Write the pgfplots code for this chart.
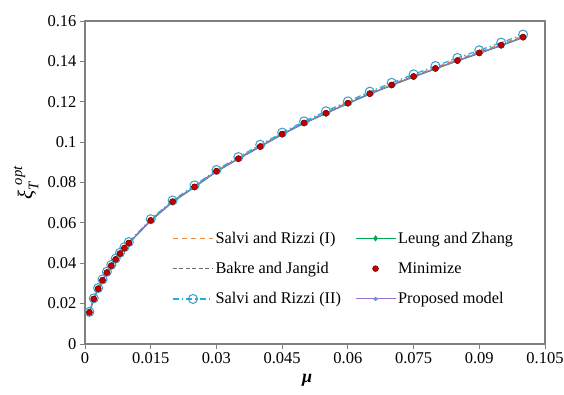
\documentclass[border=0pt]{standalone}
\usepackage{fontspec}
\setmainfont{Liberation Serif}
\usepackage{amsmath}
\usepackage{pgfplots}
\usepackage{pgfplotstable}
\pgfplotsset{compat=1.18}
\definecolor{cOrange}{HTML}{F0883C}
\definecolor{cGray}{HTML}{6E6E6E}
\definecolor{cBlue}{HTML}{1FB0E8}
\definecolor{cCirc}{HTML}{3E9CC2}
\definecolor{cGreen}{HTML}{00A850}
\definecolor{cRed}{HTML}{C00000}
\definecolor{cPurple}{HTML}{9A72D0}
\definecolor{cAxis}{HTML}{808080}

\pgfplotstableread{
mu    salvi1 bakre  salvi2 leung  mini   prop
0.001 0.0158 0.0157 0.0159 0.0156 0.0157 0.0157
0.002 0.0224 0.0223 0.0226 0.0222 0.0223 0.0223
0.003 0.0275 0.0274 0.0277 0.0273 0.0274 0.0274
0.004 0.0317 0.0316 0.0320 0.0315 0.0316 0.0316
0.005 0.0355 0.0354 0.0358 0.0353 0.0354 0.0354
0.006 0.0389 0.0388 0.0392 0.0387 0.0388 0.0388
0.007 0.0420 0.0419 0.0423 0.0418 0.0419 0.0419
0.008 0.0449 0.0448 0.0452 0.0447 0.0448 0.0448
0.009 0.0476 0.0475 0.0480 0.0474 0.0475 0.0475
0.010 0.0501 0.0500 0.0505 0.0499 0.0500 0.0500
0.015 0.0614 0.0612 0.0618 0.0611 0.0612 0.0612
0.020 0.0707 0.0705 0.0711 0.0703 0.0705 0.0705
0.025 0.0781 0.0779 0.0786 0.0777 0.0778 0.0779
0.030 0.0858 0.0856 0.0862 0.0854 0.0856 0.0856
0.035 0.0921 0.0919 0.0926 0.0917 0.0918 0.0919
0.040 0.0981 0.0979 0.0987 0.0977 0.0978 0.0979
0.045 0.1043 0.1040 0.1047 0.1038 0.1040 0.1040
0.050 0.1098 0.1095 0.1103 0.1093 0.1095 0.1095
0.055 0.1147 0.1144 0.1153 0.1142 0.1143 0.1144
0.060 0.1197 0.1193 0.1202 0.1191 0.1193 0.1193
0.065 0.1244 0.1240 0.1250 0.1238 0.1240 0.1240
0.070 0.1287 0.1283 0.1294 0.1281 0.1283 0.1283
0.075 0.1329 0.1325 0.1336 0.1323 0.1325 0.1325
0.080 0.1370 0.1365 0.1377 0.1363 0.1365 0.1365
0.085 0.1409 0.1404 0.1417 0.1402 0.1404 0.1404
0.090 0.1447 0.1442 0.1455 0.1440 0.1442 0.1442
0.095 0.1485 0.1480 0.1493 0.1478 0.1480 0.1480
0.100 0.1525 0.1520 0.1533 0.1518 0.1520 0.1520
}\datatable

\begin{document}
\begin{tikzpicture}
\begin{axis}[
  scale only axis,
  width=460pt, height=323pt,
  xmin=0, xmax=0.105, ymin=0, ymax=0.16,
  xtick={0,0.015,0.03,0.045,0.06,0.075,0.09,0.105},
  ytick={0,0.02,0.04,0.06,0.08,0.1,0.12,0.14,0.16},
  scaled ticks=false,
  /pgf/number format/assume math mode=true,
  /pgf/number format/fixed,
  /pgf/number format/precision=3,
  tick align=outside,
  xtick pos=bottom, ytick pos=left,
  major tick length=5pt,
  tick style={cAxis, line width=0.8pt},
  axis line style={cAxis, line width=1.1pt},
  ticklabel style={font=\fontsize{16.5}{18}\selectfont, text=black},
  xlabel={\textbf{\textit{μ}}},
  xlabel style={at={(axis description cs:0.483,-0.111)}, anchor=center, font=\fontsize{18}{20}\selectfont},
  ylabel={$\text{\itshape ξ}_{\text{\itshape T}}^{\ \text{\itshape opt}}$},
  ylabel style={at={(axis description cs:-0.128,0.5)}, anchor=center, font=\fontsize{21}{23}\selectfont},
  legend columns=2,
  legend style={at={(axis description cs:0.183,0.36)}, anchor=north west, draw=none, fill=none,
    font=\fontsize{16.3}{18}\selectfont, row sep=13.5pt,
    /tikz/every even column/.append style={column sep=12pt}},
  legend cell align=left,
  legend image code/.code={\draw[mark repeat=2,mark phase=2,#1] plot coordinates {(0pt,0pt) (20pt,0pt) (40pt,0pt)};},
]
\addplot[cOrange, line width=1.2pt, dash pattern=on 5pt off 4pt] table[x=mu, y=salvi1] {\datatable};
\addlegendentry{Salvi and Rizzi (I)}
\addplot[cGreen, line width=1.2pt, mark=diamond*, mark size=2.2pt, mark options={solid}] table[x=mu, y=leung] {\datatable};
\addlegendentry{Leung and Zhang}
\addplot[cGray, line width=1.2pt, dash pattern=on 4pt off 2.5pt] table[x=mu, y=bakre] {\datatable};
\addlegendentry{Bakre and Jangid}
\addplot[only marks, mark=*, mark size=3pt, mark options={fill=cRed, draw=cRed!70!black}] table[x=mu, y=mini] {\datatable};
\addlegendentry{Minimize}
\addplot[cBlue, line width=1.2pt, dash pattern=on 6pt off 3pt on 1.5pt off 3pt, mark=o, mark size=4.5pt, mark options={solid, draw=cCirc, line width=1pt}] table[x=mu, y=salvi2] {\datatable};
\addlegendentry{Salvi and Rizzi (II)}
\addplot[cPurple, line width=1pt, mark=asterisk, mark size=2pt, mark options={solid, cBlue!60!cPurple}] table[x=mu, y=prop] {\datatable};
\addlegendentry{Proposed model}
\addplot[forget plot, only marks, mark=*, mark size=3pt, mark options={fill=cRed, draw=cRed!70!black}] table[x=mu, y=mini] {\datatable};
\end{axis}
\path (current axis.south west) ++(-85pt,-50pt) coordinate (bl);
\path (current axis.north east) ++(19pt,21pt) coordinate (tr);
\pgfresetboundingbox
\useasboundingbox (bl) rectangle (tr);
\end{tikzpicture}
\end{document}
